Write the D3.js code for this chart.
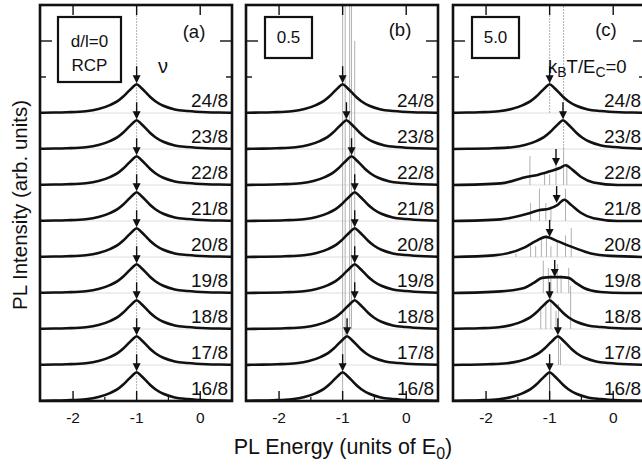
<!DOCTYPE html>
<html>
<head>
<meta charset="utf-8">
<script src="https://cdn.jsdelivr.net/npm/d3@7"></script>
<style>
  html, body { margin: 0; padding: 0; background: #fff; }
  svg text { font-family: "Liberation Sans", Arial, sans-serif; fill: #111; }
</style>
</head>
<body>
<div id="holder"></div>
<script>
// filling factors, top curve first
const fillings = ['24/8', '23/8', '22/8', '21/8', '20/8', '19/8', '18/8', '17/8', '16/8'];
const panelTags = ['(a)', '(b)', '(c)'];
const boxLabels = [['d/l=0', 'RCP'], ['0.5'], ['5.0']];
const xTicks = [-2, -1, 0];
const xMinorTicks = [-1.5, -0.5];

const profileDx = [-1.5, -1.1, -0.8, -0.6, -0.42, -0.3, -0.21, -0.14, -0.07, 0, 0.07, 0.14, 0.21, 0.3, 0.42, 0.6, 0.8, 1.1, 1.5];
const profileH  = [0.005, 0.02, 0.05, 0.11, 0.22, 0.33, 0.46, 0.58, 0.7, 0.8, 0.7, 0.58, 0.45, 0.32, 0.2, 0.1, 0.055, 0.02, 0.005];

// peak positions (units of E0); null = irregular curve below
const peaksA = [-1.0, -1.0, -1.0, -1.0, -1.0, -1.0, -1.0, -1.0, -1.0];
const peaksB = [-1.0, -0.94, -0.86, -0.81, -0.81, -0.81, -0.81, -0.93, -1.0];
const peaksC = [-1.0, -0.79, null, null, null, null, -1.0, -0.87, -1.0];

// irregular curves of panel (c): [energy, height]
const curveC22 = [[-2.52, 0], [-1.77, 0.046], [-1.35, 0.23], [-1.19, 0.28], [-0.98, 0.39], [-0.83, 0.48], [-0.75, 0.55], [-0.64, 0.42], [-0.51, 0.23], [-0.31, 0.07], [0.07, 0], [0.5, 0]];
const curveC21 = [[-2.52, 0], [-1.77, 0.046], [-1.35, 0.2], [-1.17, 0.3], [-1.01, 0.34], [-0.88, 0.44], [-0.77, 0.59], [-0.67, 0.46], [-0.51, 0.23], [-0.31, 0.074], [0.07, 0], [0.5, 0]];
const curveC20 = [[-2.52, 0], [-1.88, 0.046], [-1.4, 0.26], [-1.22, 0.44], [-1.06, 0.56], [-0.88, 0.44], [-0.62, 0.26], [-0.35, 0.1], [-0.04, 0.03], [0.5, 0]];
const curveC19 = [[-2.52, 0], [-1.77, 0.046], [-1.4, 0.14], [-1.25, 0.28], [-1.12, 0.42], [-0.98, 0.44], [-0.83, 0.44], [-0.7, 0.42], [-0.59, 0.28], [-0.46, 0.14], [-0.2, 0.03], [0.17, 0], [0.5, 0]];
const curvesC = { '22/8': curveC22, '21/8': curveC21, '20/8': curveC20, '19/8': curveC19 };

// arrow positions and the height of their tips
const arrowsA = [-1.0, -1.0, -1.0, -1.0, -1.0, -1.0, -1.0, -1.0, -1.0];
const arrowsB = [-1.0, -0.94, -0.86, -0.81, -0.81, -0.81, -0.81, -0.93, -1.0];
const arrowsC = [-1.0, -0.79, -0.9, -0.89, -1.0, -0.92, -1.0, -0.87, -1.0];
const tipsC = [0.8, 0.8, 0.5, 0.47, 0.53, 0.42, 0.8, 0.8, 0.8];

// stick lines: [energy, from, to] in y units (16/8 baseline = 0)
const sticksA = [[-1.0, 0, 11]];
const sticksB = [[-1.0, 0, 11], [-0.96, 1, 11], [-0.89, 2, 11], [-0.86, 2, 11], [-0.81, 3, 10]];
const sticksC = [
  [-1.0, 8, 11], [-0.78, 7, 11],
  [-1.31, 6, 6.8], [-1.08, 6, 6.35], [-1.0, 6, 6.3], [-0.9, 6, 6.55], [-0.78, 6, 7], [-0.73, 6, 6.6],
  [-1.3, 5, 5.5], [-1.16, 5, 5.9], [-1.06, 5, 5.5], [-0.98, 5, 5.4], [-0.75, 5, 5.9],
  [-1.53, 4, 4.1], [-1.3, 4, 4.3], [-1.22, 4, 4.3], [-1.13, 4, 4.5], [-1.05, 4, 4.6], [-0.98, 4, 4.3], [-0.88, 4, 4.4], [-0.75, 4, 4.6], [-0.66, 4, 4.8],
  [-1.1, 3, 3.9], [-1.02, 3, 3.7], [-0.98, 3, 3.5], [-0.88, 3, 3.8], [-0.82, 3, 3.5], [-0.7, 3, 3.7],
  [-1.14, 2, 2.6], [-1.06, 2, 2.7], [-0.98, 2, 3], [-0.9, 2, 2.5], [-0.86, 2, 2.7], [-0.67, 2, 3.2],
  [-0.86, 1, 1.8], [-0.83, 1, 1.6],
  [-1.0, 0, 0.85]
];

const w = 642;
const h = 466;
const panelX = [40, 246, 453];
const panelW = 192;
const panelTop = 5;
const panelH = 396;

const svg = d3.select('#holder')
  .append('svg')
  .attr('width', w)
  .attr('height', h);

const xScale = d3.scaleLinear().domain([-2.52, 0.5]).range([0, panelW]);
const yScale = d3.scaleLinear().domain([0, 11]).range([panelH, 0]);

const line = d3.line()
  .x(d => xScale(d[0]))
  .y(d => yScale(d[1]))
  .curve(d3.curveMonotoneX);

const panels = [
  { peaks: peaksA, arrows: arrowsA, tips: null, sticks: sticksA },
  { peaks: peaksB, arrows: arrowsB, tips: null, sticks: sticksB },
  { peaks: peaksC, arrows: arrowsC, tips: tipsC, sticks: sticksC }
];

panels.forEach((p, pi) => {
  const g = svg.append('g')
    .attr('transform', 'translate(' + panelX[pi] + ',' + panelTop + ')');

  g.append('clipPath').attr('id', 'clip' + pi)
    .append('rect').attr('width', panelW).attr('height', panelH);

  const inner = g.append('g').attr('clip-path', 'url(#clip' + pi + ')');

  // faint baselines
  inner.selectAll('.base')
    .data(fillings)
    .enter()
    .append('line')
    .attr('x1', 0).attr('x2', panelW)
    .attr('y1', (_, i) => yScale(8 - i))
    .attr('y2', (_, i) => yScale(8 - i))
    .attr('stroke', '#d4d4d4')
    .attr('stroke-width', 0.8);

  // stick spectra
  inner.selectAll('.stick')
    .data(p.sticks)
    .enter()
    .append('line')
    .attr('x1', d => xScale(d[0])).attr('x2', d => xScale(d[0]))
    .attr('y1', d => yScale(d[1])).attr('y2', d => yScale(d[2]))
    .attr('stroke', d => (d[1] === 0 && d[2] < 1) ? '#444' : '#b0b0b0')
    .attr('stroke-width', 1)
    .attr('stroke-dasharray', d => (pi === 0 || (pi === 2 && d[2] - d[1] > 2)) ? '2,1' : null);

  // curves
  fillings.forEach((f, i) => {
    const base = 8 - i;
    let pts;
    if (p.peaks[i] === null) {
      pts = curvesC[f];
    } else {
      const pk = p.peaks[i];
      pts = [[-2.52, 0]].concat(profileDx.map((dx, k) => [pk + dx, profileH[k]]), [[0.5, 0]]);
    }
    inner.append('path')
      .datum(pts.map(d => [d[0], d[1] + base]))
      .attr('d', line)
      .attr('fill', 'none')
      .attr('stroke', '#111')
      .attr('stroke-width', 2.6);

    // arrow
    const tip = p.tips ? p.tips[i] : (p.peaks[i] !== null ? 0.8 : 0.5);
    const ax = xScale(p.arrows[i]);
    const ay = yScale(base + tip) - 1;
    inner.append('line')
      .attr('x1', ax).attr('x2', ax)
      .attr('y1', ay - 17).attr('y2', ay - 6)
      .attr('stroke', '#111')
      .attr('stroke-width', 1.4);
    inner.append('path')
      .attr('d', 'M' + (ax - 4) + ',' + (ay - 8) + 'L' + (ax + 4) + ',' + (ay - 8) + 'L' + ax + ',' + ay + 'Z')
      .attr('fill', '#111');

    // filling label
    g.append('text')
      .attr('x', panelW - 4)
      .attr('y', yScale(base) - 6)
      .attr('text-anchor', 'end')
      .style('font-size', '19px')
      .text(f);
  });

  // ticks
  xTicks.forEach(t => {
    g.append('line').attr('x1', xScale(t)).attr('x2', xScale(t))
      .attr('y1', panelH).attr('y2', panelH - 10)
      .attr('stroke', '#111').attr('stroke-width', 1.4);
    g.append('line').attr('x1', xScale(t)).attr('x2', xScale(t))
      .attr('y1', 0).attr('y2', 10)
      .attr('stroke', '#111').attr('stroke-width', 1.4);
    g.append('text')
      .attr('x', xScale(t))
      .attr('y', panelH + 22)
      .attr('text-anchor', 'middle')
      .style('font-size', '15.5px')
      .text(t === 0 ? '0' : '-' + Math.abs(t));
  });
  xMinorTicks.forEach(t => {
    g.append('line').attr('x1', xScale(t)).attr('x2', xScale(t))
      .attr('y1', panelH).attr('y2', panelH - 4)
      .attr('stroke', '#111').attr('stroke-width', 1.2);
  });
  [9, 10].forEach(t => {
    const len = t === 10 ? 12 : 6;
    g.append('line').attr('x1', 0).attr('x2', len)
      .attr('y1', yScale(t)).attr('y2', yScale(t))
      .attr('stroke', '#111').attr('stroke-width', 1.4);
    g.append('line').attr('x1', panelW).attr('x2', panelW - len)
      .attr('y1', yScale(t)).attr('y2', yScale(t))
      .attr('stroke', '#111').attr('stroke-width', 1.4);
  });

  // frame
  g.append('rect')
    .attr('width', panelW).attr('height', panelH)
    .attr('fill', 'none')
    .attr('stroke', '#111')
    .attr('stroke-width', 2.6);

  // panel tag
  g.append('text')
    .attr('x', [154, 154, 153][pi])
    .attr('y', [33, 31, 31][pi])
    .attr('text-anchor', 'middle')
    .style('font-size', '18.5px')
    .text(panelTags[pi]);

  // parameter box
  const lbl = boxLabels[pi];
  const bw = lbl.length > 1 ? 63 : 47;
  const bh = lbl.length > 1 ? 65 : 41;
  const bx = lbl.length > 1 ? 18 : 19;
  g.append('rect')
    .attr('x', bx).attr('y', 12)
    .attr('width', bw).attr('height', bh)
    .attr('fill', '#fff')
    .attr('stroke', '#111')
    .attr('stroke-width', 2.2);
  lbl.forEach((s, k) => {
    g.append('text')
      .attr('x', bx + bw / 2)
      .attr('y', lbl.length > 1 ? 42 + k * 24 : 38)
      .attr('text-anchor', 'middle')
      .style('font-size', '17px')
      .text(s);
  });
});

// nu label in (a)
svg.append('text')
  .attr('x', 163).attr('y', 73)
  .attr('text-anchor', 'middle')
  .style('font-size', '20px')
  .text('\u03bd');

// kBT/EC=0 in (c)
const kt = svg.append('text')
  .attr('x', 548).attr('y', 73)
  .style('font-size', '18.5px');
kt.append('tspan').text('k');
kt.append('tspan').attr('dy', 4).style('font-size', '14px').text('B');
kt.append('tspan').attr('dy', -4).text('T/E');
kt.append('tspan').attr('dy', 4).style('font-size', '14px').text('C');
kt.append('tspan').attr('dy', -4).text('=0');

// axis titles
const xt = svg.append('text')
  .attr('x', 343).attr('y', 454)
  .attr('text-anchor', 'middle')
  .style('font-size', '21.5px');
xt.append('tspan').text('PL Energy (units of E');
xt.append('tspan').attr('dy', 5).style('font-size', '16px').text('0');
xt.append('tspan').attr('dy', -5).text(')');

svg.append('text')
  .attr('transform', 'translate(27,205) rotate(-90)')
  .attr('text-anchor', 'middle')
  .style('font-size', '20.5px')
  .text('PL Intensity (arb. units)');
</script>
</body>
</html>
